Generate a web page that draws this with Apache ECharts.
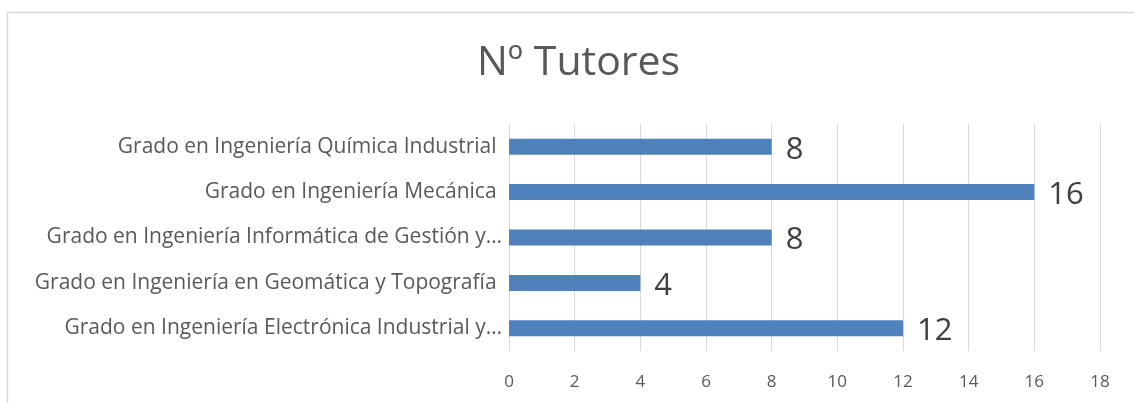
<!DOCTYPE html>
<html>
<head>
<meta charset="utf-8">
<script src="https://cdn.jsdelivr.net/npm/echarts@6/dist/echarts.min.js"></script>
<style>
  html, body { margin: 0; padding: 0; background: #fff; }
  #chart { width: 1134px; height: 403px; }
</style>
</head>
<body>
<div id="chart"></div>
<script>
// categorias de abajo hacia arriba (eje de categorias en ECharts empieza abajo)
var categorias = [
  'Grado en Ingeniería Electrónica Industrial y…',
  'Grado en Ingeniería en Geomática y Topografía ',
  'Grado en Ingeniería Informática de Gestión y…',
  'Grado en Ingeniería Mecánica ',
  'Grado en Ingeniería Química Industrial '
];
var tutores = [12, 4, 8, 16, 8];
var ejeMin = 0, ejeMax = 18, ejePaso = 2;

var fuente = '"Open Sans", sans-serif';
var myChart = echarts.init(document.getElementById('chart'));

var option = {
  animation: false,
  textStyle: { fontFamily: fuente },
  title: {
    text: 'Nº Tutores',
    left: 472,
    top: 38,
    textStyle: { fontSize: 41, fontWeight: 'normal', color: '#595959', fontFamily: fuente }
  },
  graphic: [{
    type: 'rect',
    shape: { x: 7.5, y: 12.5, width: 1140, height: 400 },
    style: { fill: 'none', stroke: '#d9d9d9', lineWidth: 1.5 },
    silent: true
  }],
  grid: { left: 509, right: 34, top: 124, bottom: 52 },
  xAxis: {
    type: 'value',
    min: ejeMin,
    max: ejeMax,
    interval: ejePaso,
    axisLine: { show: false },
    axisTick: { show: false },
    splitLine: { show: true, lineStyle: { color: '#d9d9d9', width: 1 } },
    axisLabel: { color: '#595959', fontSize: 17, margin: 23 }
  },
  yAxis: {
    type: 'category',
    data: categorias,
    axisLine: { show: false },
    axisTick: { show: false },
    axisLabel: { color: '#595959', fontSize: 21, margin: 7 }
  },
  series: [{
    type: 'bar',
    data: tutores,
    barWidth: 16,
    itemStyle: { color: '#4f81bd' },
    label: {
      show: true,
      position: 'right',
      distance: 14,
      offset: [0, 3],
      color: '#404040',
      fontSize: 31
    }
  }]
};

myChart.setOption(option);
</script>
</body>
</html>
